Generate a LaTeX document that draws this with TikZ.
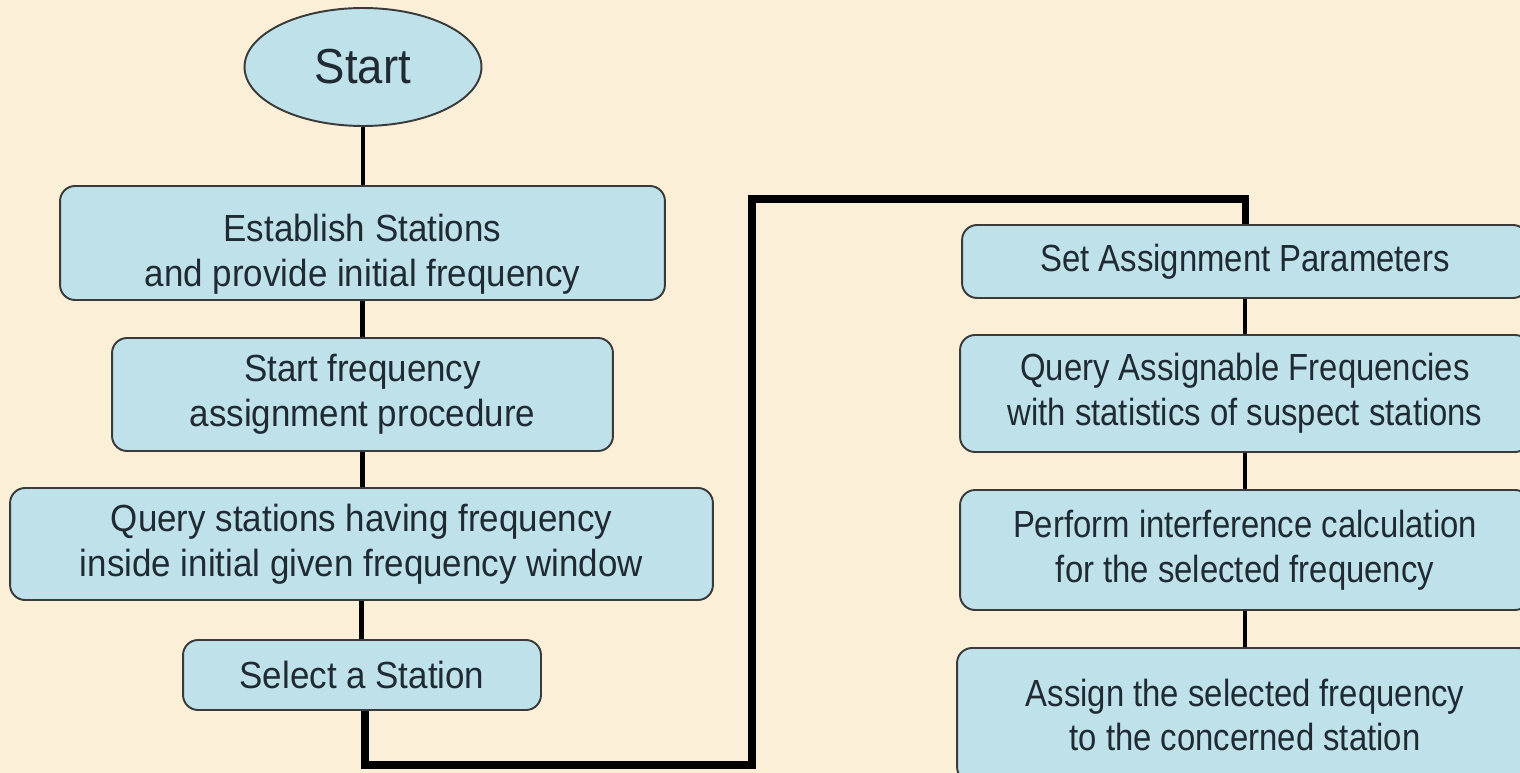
\documentclass[tikz,border=0pt]{standalone}
\usepackage{fontspec}
\setmainfont{Liberation Sans}
\newfontfamily\leftfont[FakeStretch=0.925]{Liberation Sans}
\newfontfamily\rightfont[FakeStretch=0.87]{Liberation Sans}
\usetikzlibrary{shapes.geometric}
\definecolor{bgcol}{HTML}{FBEFD8}
\definecolor{boxfill}{HTML}{BEE1EA}
\definecolor{boxline}{HTML}{3A3A3A}
\definecolor{txtcol}{HTML}{1F2A33}
\tikzset{
  stepbox/.style={draw=boxline, line width=1.1pt, fill=boxfill, rounded corners=0.3cm,
    align=center, text=txtcol, inner sep=0pt},
  leftbox/.style={stepbox, font=\leftfont\fontsize{21.5}{25.5}\selectfont},
  rightbox/.style={stepbox, font=\rightfont\fontsize{21.5}{25.5}\selectfont},
  startnode/.style={ellipse, draw=boxline, line width=1.1pt, fill=boxfill,
    text=txtcol, inner sep=0pt, font=\leftfont\fontsize{28}{30}\selectfont},
  link/.style={line width=2.6pt, black},
  loopline/.style={line width=4pt, black, line join=miter},
}
\begin{document}
\begin{tikzpicture}[x=0.02cm,y=-0.02cm]
\clip (0,0) rectangle (1520,773);
\fill[bgcol] (0,0) rectangle (1520,773);
% connector corner points
\coordinate (c1) at (365,765);
\coordinate (c2) at (752,765);
\coordinate (c3) at (752,199);
\coordinate (c4) at (1245,199);
% left column
\node[startnode, minimum width=4.74cm, minimum height=2.36cm] (start) at (363,67) {Start};
\node[leftbox, minimum width=12.1cm, minimum height=2.28cm] (b1) at (362.5,243)
  {\rule{0pt}{28pt}Establish Stations\\and provide initial frequency};
\node[leftbox, minimum width=10.02cm, minimum height=2.26cm] (b2) at (362.5,394.5)
  {Start frequency\\assignment procedure};
\node[leftbox, minimum width=14.06cm, minimum height=2.24cm] (b3) at (361.5,544)
  {Query stations having frequency\\inside initial given frequency window};
\node[leftbox, minimum width=7.16cm, minimum height=1.4cm] (b4) at (362,675)
  {Select a Station};
% right column
\node[rightbox, minimum width=11.32cm, minimum height=1.46cm] (b5) at (1245,261.5)
  {Set Assignment Parameters};
\node[rightbox, minimum width=11.4cm, minimum height=2.34cm] (b6) at (1245,393.5)
  {Query Assignable Frequencies\\with statistics of suspect stations};
\node[rightbox, minimum width=11.4cm, minimum height=2.4cm] (b7) at (1245,550)
  {Perform interference calculation\\for the selected frequency};
\node[rightbox, minimum width=11.52cm, minimum height=2.68cm] (b8) at (1245,715)
  {Assign the selected frequency\\to the concerned station};
% connectors
\draw[link] (start.south) -- (start.south |- b1.north);
\draw[link] (b1.south) -- (b1.south |- b2.north);
\draw[link] (b2.south) -- (b2.south |- b3.north);
\draw[link] (b3.south) -- (b3.south |- b4.north);
\draw[loopline] (b4.south -| c1) -- (c1) -- (c2) -- (c3) -- (c4) -- (b5.north);
\draw[link] (b5.south) -- (b6.north);
\draw[link] (b6.south) -- (b7.north);
\draw[link] (b7.south) -- (b8.north);
\end{tikzpicture}
\end{document}
